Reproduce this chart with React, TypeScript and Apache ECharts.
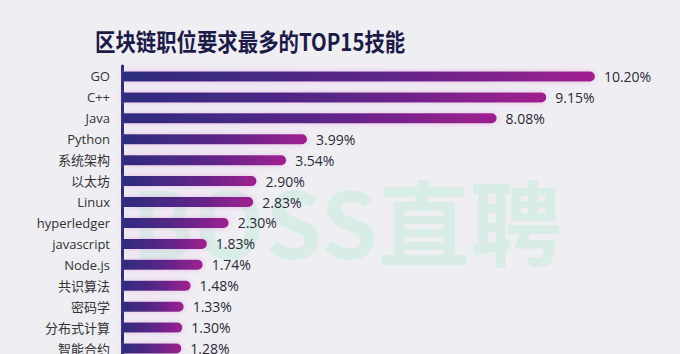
import React, { useEffect, useRef } from "react";
import * as echarts from "echarts";

const titleText = "区块链职位要求最多的TOP15技能";
const categories = [
  "GO", "C++", "Java", "Python", "系统架构", "以太坊", "Linux", "hyperledger",
  "javascript", "Node.js", "共识算法", "密码学", "分布式计算", "智能合约",
];
const values = [10.2, 9.15, 8.08, 3.99, 3.54, 2.9, 2.83, 2.3, 1.83, 1.74, 1.48, 1.33, 1.3, 1.28];
const watermark = "BOSS直聘";

export default function App() {
  const ref = useRef<HTMLDivElement>(null);
  useEffect(() => {
    if (!ref.current) return;
    const chart = echarts.init(ref.current, null, { renderer: "svg" });
    const font = "'Open Sans', 'Noto Sans CJK SC', sans-serif";
    chart.setOption({
      animation: false,
      backgroundColor: "#efeef3",
      graphic: [
        {
          type: "text",
          x: 95,
          y: 40,
          scaleX: 0.85,
          style: {
            text: titleText,
            fontSize: 24,
            fontWeight: "bold",
            fontFamily: "'Noto Sans CJK SC', sans-serif",
            fill: "#1c1b48",
            textVerticalAlign: "middle",
            verticalAlign: "middle",
          },
        },
        {
          type: "text",
          x: 562,
          y: 218,
          z: -10,
          silent: true,
          style: {
            text: watermark,
            fontSize: 92,
            fontWeight: "bold",
            fontFamily: "'Noto Sans CJK SC', sans-serif",
            fill: "#d9ede7",
            align: "right",
            textAlign: "right",
            verticalAlign: "middle",
            textVerticalAlign: "middle",
          },
        },
      ],
      grid: { left: 122, right: 48, top: 66, bottom: 11 },
      xAxis: {
        type: "value",
        min: 0,
        max: 11,
        show: false,
      },
      yAxis: {
        type: "category",
        inverse: true,
        data: categories,
        axisLine: { show: true, lineStyle: { color: "#2a2a70", width: 3 } },
        axisTick: { show: false },
        axisLabel: { color: "#333", fontSize: 13, fontFamily: font, margin: 12 },
        splitLine: { show: false },
      },
      series: [
        {
          type: "bar",
          data: values,
          barWidth: 10,
          z: 3,
          itemStyle: {
            borderRadius: [0, 5, 5, 0],
            color: new echarts.graphic.LinearGradient(0, 0, 1, 0, [
              { offset: 0, color: "#2c2d7e" },
              { offset: 0.55, color: "#5e2588" },
              { offset: 1, color: "#a01f8f" },
            ]),
            shadowColor: "rgba(225,130,220,0.45)",
            shadowBlur: 6,
          },
          label: {
            show: true,
            position: "right",
            distance: 9,
            color: "#2a2a36",
            fontSize: 14,
            fontFamily: font,
            formatter: (p: any) => Number(p.value).toFixed(2) + "%",
          },
        },
      ],
    });
    return () => chart.dispose();
  }, []);
  return (
    <div
      style={{
        position: "fixed",
        left: 0,
        top: 0,
        width: 680,
        height: 354,
        overflow: "hidden",
        background: "#efeef3",
      }}
    >
      <div ref={ref} style={{ width: 680, height: 370 }} />
    </div>
  );
}
